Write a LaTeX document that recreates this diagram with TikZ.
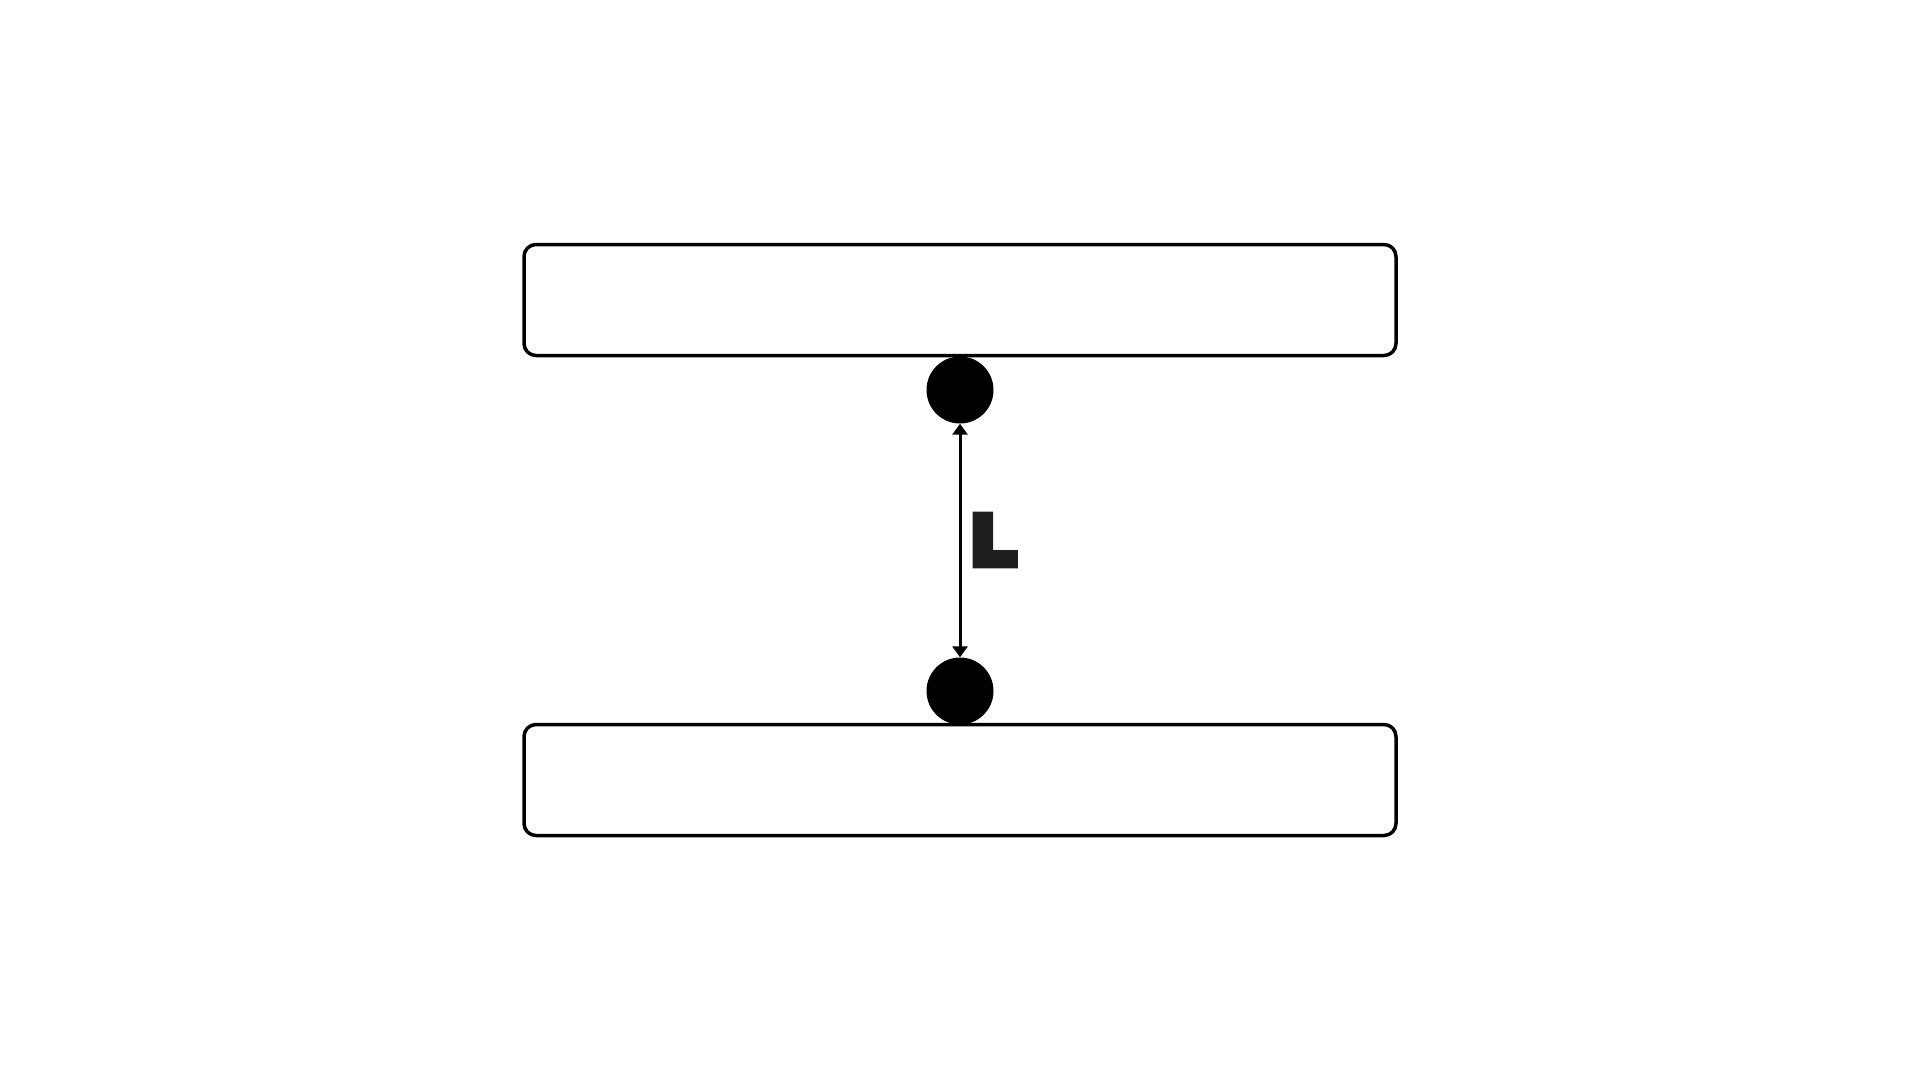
\documentclass[tikz,border=0pt]{standalone}
\usepackage{fontspec}
\newfontfamily\labelfont[FakeBold=16]{Liberation Sans Bold}
\usetikzlibrary{arrows.meta}
\begin{document}
\begin{tikzpicture}[x=1pt,y=-1pt,
  plate/.style={draw=black, line width=3.5pt, rounded corners=12pt, minimum width=872pt, minimum height=111pt, inner sep=0pt},
  joint/.style={circle, fill=black, minimum size=67pt, inner sep=0pt},
  dimline/.style={line width=3pt, {Triangle[length=11pt,width=15pt]}-{Triangle[length=11pt,width=15pt]}, line join=round},
  dimlabel/.style={inner sep=0pt, text=black!88, font=\labelfont\fontsize{67pt}{67pt}\selectfont}]
\useasboundingbox (0,0) rectangle (1920,1080);
\node[plate] (topplate) at (960,300) {};
\node[plate] (botplate) at (960,780) {};
\node[joint] (topjoint) at (960,390) {};
\node[joint] (botjoint) at (960,691) {};
\draw[dimline] (topjoint.south) -- (botjoint.north);
\node[dimlabel] (len) at (994,540) {L};
\end{tikzpicture}
\end{document}
